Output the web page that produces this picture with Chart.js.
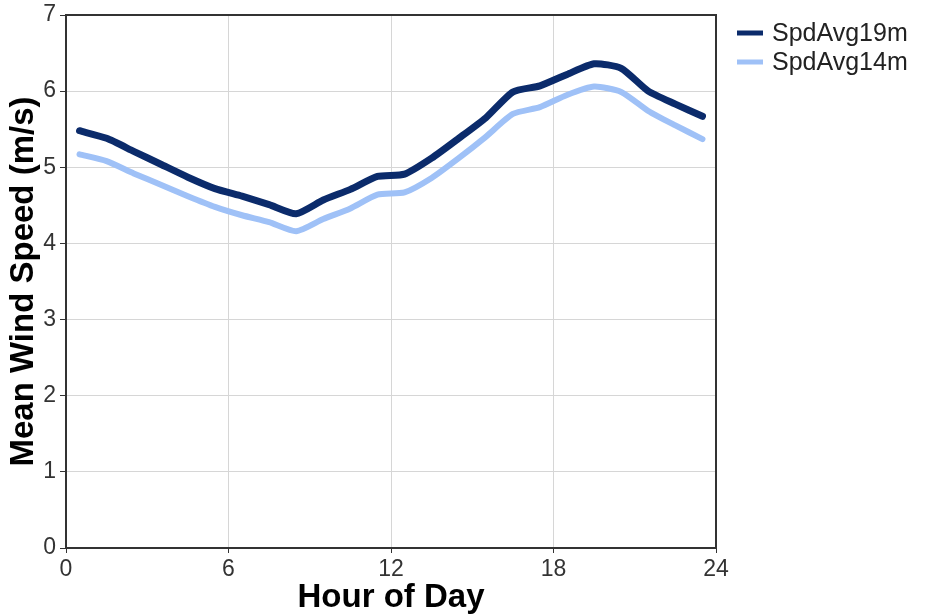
<!DOCTYPE html>
<html>
<head>
<meta charset="utf-8">
<script src="https://cdn.jsdelivr.net/npm/chart.js@4.4.0/dist/chart.umd.min.js"></script>
<style>
body { margin: 0; background: #fff; }
#wrap { width: 925px; height: 615px; }
</style>
</head>
<body>
<div id="wrap"><canvas id="myChart"></canvas></div>
<script>
const hours = [0.5, 1.5, 2.5, 3.5, 4.5, 5.5, 6.5, 7.5, 8.5, 9.5, 10.5, 11.5,
  12.5, 13.5, 14.5, 15.5, 16.5, 17.5, 18.5, 19.5, 20.5, 21.5, 22.5, 23.5]
const spd19 = [5.48, 5.38, 5.21, 5.04, 4.87, 4.72, 4.62, 4.51, 4.39, 4.57, 4.71, 4.88,
  4.91, 5.12, 5.38, 5.65, 5.99, 6.07, 6.22, 6.36, 6.30, 6.00, 5.83, 5.67]
const spd14 = [5.17, 5.08, 4.92, 4.77, 4.62, 4.48, 4.37, 4.28, 4.16, 4.32, 4.46, 4.64,
  4.67, 4.86, 5.12, 5.40, 5.70, 5.79, 5.95, 6.06, 5.99, 5.74, 5.55, 5.37]
const xTicks = [0, 6, 12, 18, 24]
const seriesNames = ['SpdAvg19m', 'SpdAvg14m']
const seriesColors = ['#0b2b6b', '#9fc1f7']

Chart.defaults.font.family = '"Liberation Sans", Arial, sans-serif'

const toPoints = function (ys) {
  return hours.map((h, i) => ({x: h, y: ys[i]}))
}

// top/right frame + legend drawn by hand
const boxAndLegend = {
  id: 'boxAndLegend',
  afterDraw(chart) {
    const ctx = chart.ctx
    const a = chart.chartArea
    ctx.save()
    ctx.strokeStyle = '#333'
    ctx.lineWidth = 2
    ctx.beginPath()
    ctx.moveTo(a.left, a.top)
    ctx.lineTo(a.right, a.top)
    ctx.lineTo(a.right, a.bottom)
    ctx.stroke()
    ctx.font = '25px "Liberation Sans", Arial, sans-serif'
    ctx.textBaseline = 'middle'
    chart.data.datasets.forEach((ds, i) => {
      const y = 33 + i * 29
      ctx.strokeStyle = ds.borderColor
      ctx.lineWidth = 5
      ctx.beginPath()
      ctx.moveTo(737, y)
      ctx.lineTo(763, y)
      ctx.stroke()
      ctx.fillStyle = '#222'
      ctx.fillText(ds.label, 772, y + 1)
    })
    ctx.restore()
  }
}

const ctx = document.getElementById('myChart').getContext('2d')
const chart = new Chart(ctx, {
  type: 'line',
  data: {
    datasets: [
      {label: seriesNames[0], data: toPoints(spd19), borderColor: seriesColors[0], borderWidth: 7, pointRadius: 0, tension: 0.2, borderCapStyle: 'round'},
      {label: seriesNames[1], data: toPoints(spd14), borderColor: seriesColors[1], borderWidth: 6, pointRadius: 0, tension: 0.2, borderCapStyle: 'round'}
    ]
  },
  options: {
    responsive: true,
    maintainAspectRatio: false,
    animation: false,
    devicePixelRatio: 1,
    layout: {padding: {left: 0, top: 15, right: 209, bottom: 0}},
    plugins: {
      legend: {display: false},
      tooltip: {enabled: false}
    },
    scales: {
      x: {
        type: 'linear',
        min: 0,
        max: 24,
        afterBuildTicks: (scale) => { scale.ticks = xTicks.map(v => ({value: v})) },
        afterFit: (scale) => {
          scale.height = 67
          scale.paddingLeft = 0
          scale.paddingRight = 0
        },
        ticks: {color: '#333', font: {size: 23}, padding: 3, maxRotation: 0},
        grid: {color: '#d6d6d6', lineWidth: 1, tickColor: '#333', tickLength: 5},
        border: {color: '#333', width: 2},
        title: {display: true, text: 'Hour of Day', color: '#000', font: {size: 33, weight: 'bold', lineHeight: 1}, padding: {top: 0, bottom: 1}}
      },
      y: {
        min: 0,
        max: 7,
        afterFit: (scale) => {
          scale.width = 66
          scale.paddingTop = 0
          scale.paddingBottom = 0
        },
        ticks: {stepSize: 1, color: '#333', font: {size: 23}, padding: 4},
        grid: {color: '#d6d6d6', lineWidth: 1, tickColor: '#333', tickLength: 6},
        border: {color: '#333', width: 2},
        title: {display: true, text: 'Mean Wind Speed (m/s)', color: '#000', font: {size: 33, weight: 'bold', lineHeight: 1.2}, padding: {top: 4, bottom: 0}}
      }
    }
  },
  plugins: [boxAndLegend]
})
</script>
</body>
</html>
